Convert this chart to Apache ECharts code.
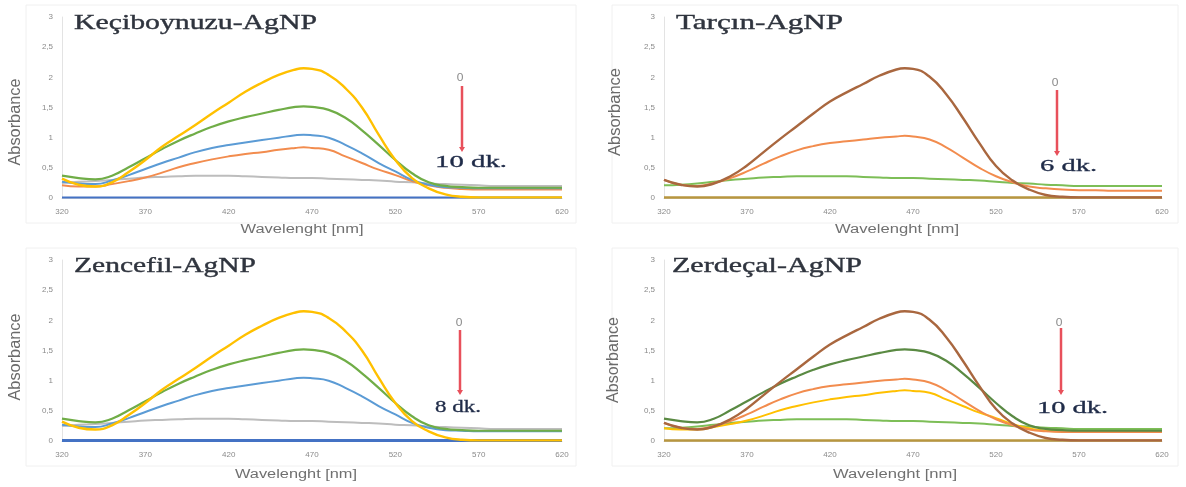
<!DOCTYPE html>
<html>
<head>
<meta charset="utf-8">
<script src="https://cdn.jsdelivr.net/npm/echarts@6/dist/echarts.min.js"></script>
<style>
html,body{margin:0;padding:0;background:#fff;}
#chart{width:1186px;height:487px;}
</style>
</head>
<body>
<div id="chart"></div>
<script>
// ---- data ----
const wavelengths = [320,330,340,350,360,370,380,390,400,410,420,430,440,450,460,465,470,480,490,500,510,520,530,540,550,560,570,580,590,600,610,620];
const yTicks = [0,0.5,1,1.5,2,2.5,3];
const xTicks = [320,370,420,470,520,570,620];

// Keçiboynuzu-AgNP
const kYellow = [0.32,0.22,0.19,0.26,0.43,0.63,0.85,1.03,1.21,1.40,1.58,1.76,1.91,2.04,2.13,2.15,2.14,2.04,1.82,1.50,1.05,0.63,0.33,0.16,0.06,0.02,0.01,0.01,0.01,0.01,0.01,0.01];
const kGreen  = [0.37,0.33,0.31,0.37,0.51,0.66,0.81,0.95,1.07,1.18,1.27,1.34,1.40,1.46,1.51,1.52,1.51,1.46,1.33,1.12,0.88,0.63,0.41,0.26,0.20,0.18,0.17,0.17,0.17,0.17,0.17,0.17];
const kBlue   = [0.27,0.24,0.23,0.29,0.38,0.48,0.58,0.67,0.76,0.83,0.88,0.92,0.96,1.00,1.04,1.05,1.04,1.00,0.88,0.74,0.58,0.44,0.30,0.22,0.18,0.17,0.16,0.16,0.16,0.16,0.16,0.16];
const kOrange = [0.21,0.19,0.19,0.23,0.28,0.34,0.42,0.51,0.58,0.64,0.69,0.73,0.76,0.80,0.83,0.84,0.83,0.80,0.69,0.58,0.47,0.38,0.28,0.21,0.17,0.15,0.14,0.14,0.14,0.14,0.14,0.14];
const kGray   = [0.25,0.27,0.28,0.30,0.32,0.34,0.35,0.36,0.37,0.37,0.37,0.36,0.35,0.34,0.33,0.33,0.33,0.32,0.31,0.30,0.29,0.27,0.26,0.24,0.23,0.22,0.21,0.20,0.20,0.20,0.20,0.20];
const kBase   = [0.01,0.01,0.01,0.01,0.01,0.01,0.01,0.01,0.01,0.01,0.01,0.01,0.01,0.01,0.01,0.01,0.01,0.01,0.01,0.01,0.01,0.01,0.01,0.01,0.01,0.01,0.01,0.01,0.01,0.01,0.01,0.01];

// Tarçın-AgNP
const tBrown  = [0.30,0.22,0.19,0.24,0.36,0.54,0.76,0.98,1.19,1.40,1.60,1.75,1.89,2.03,2.13,2.15,2.14,2.01,1.72,1.33,0.91,0.53,0.29,0.14,0.05,0.02,0.01,0.01,0.01,0.01,0.01,0.01];
const tOrange = [0.30,0.22,0.20,0.25,0.33,0.44,0.57,0.69,0.79,0.86,0.91,0.94,0.97,1.00,1.02,1.03,1.02,0.97,0.84,0.67,0.50,0.36,0.26,0.19,0.16,0.14,0.13,0.13,0.12,0.12,0.12,0.12];
const tGreen  = [0.21,0.22,0.24,0.27,0.30,0.32,0.34,0.35,0.36,0.36,0.36,0.36,0.35,0.34,0.33,0.33,0.33,0.32,0.31,0.30,0.29,0.27,0.25,0.24,0.22,0.21,0.20,0.20,0.20,0.20,0.20,0.20];
const tBase   = [0.01,0.01,0.01,0.01,0.01,0.01,0.01,0.01,0.01,0.01,0.01,0.01,0.01,0.01,0.01,0.01,0.01,0.01,0.01,0.01,0.01,0.01,0.01,0.01,0.01,0.01,0.01,0.01,0.01,0.01,0.01,0.01];

// Zencefil-AgNP
const zYellow = [0.32,0.22,0.19,0.26,0.43,0.63,0.85,1.03,1.21,1.40,1.58,1.76,1.91,2.04,2.13,2.15,2.14,2.04,1.82,1.50,1.05,0.63,0.33,0.16,0.06,0.02,0.01,0.01,0.01,0.01,0.01,0.01];
const zGreen  = [0.37,0.33,0.31,0.37,0.51,0.66,0.81,0.95,1.07,1.18,1.27,1.34,1.40,1.46,1.51,1.52,1.51,1.46,1.33,1.12,0.88,0.63,0.41,0.26,0.20,0.18,0.17,0.17,0.17,0.17,0.17,0.17];
const zBlue   = [0.27,0.24,0.23,0.29,0.38,0.48,0.58,0.67,0.76,0.83,0.88,0.92,0.96,1.00,1.04,1.05,1.04,1.00,0.88,0.74,0.58,0.44,0.30,0.22,0.18,0.17,0.16,0.16,0.16,0.16,0.16,0.16];
const zGray   = [0.25,0.27,0.28,0.30,0.32,0.34,0.35,0.36,0.37,0.37,0.37,0.36,0.35,0.34,0.33,0.33,0.33,0.32,0.31,0.30,0.29,0.27,0.26,0.24,0.23,0.22,0.21,0.20,0.20,0.20,0.20,0.20];
const zBase   = [0.01,0.01,0.01,0.01,0.01,0.01,0.01,0.01,0.01,0.01,0.01,0.01,0.01,0.01,0.01,0.01,0.01,0.01,0.01,0.01,0.01,0.01,0.01,0.01,0.01,0.01,0.01,0.01,0.01,0.01,0.01,0.01];

// Zerdeçal-AgNP
const rBrown  = [0.30,0.22,0.19,0.24,0.36,0.54,0.76,0.98,1.19,1.40,1.60,1.75,1.89,2.03,2.13,2.15,2.14,2.01,1.72,1.33,0.91,0.53,0.29,0.14,0.05,0.02,0.01,0.01,0.01,0.01,0.01,0.01];
const rDGreen = [0.37,0.33,0.31,0.37,0.51,0.66,0.81,0.95,1.07,1.18,1.27,1.34,1.40,1.46,1.51,1.52,1.51,1.46,1.33,1.12,0.88,0.63,0.41,0.26,0.20,0.18,0.17,0.17,0.17,0.17,0.17,0.17];
const rOrange = [0.30,0.22,0.20,0.25,0.33,0.44,0.57,0.69,0.79,0.86,0.91,0.94,0.97,1.00,1.02,1.03,1.02,0.97,0.84,0.67,0.50,0.36,0.26,0.19,0.16,0.15,0.15,0.15,0.15,0.15,0.15,0.15];
const rYellow = [0.21,0.19,0.19,0.23,0.28,0.34,0.42,0.51,0.58,0.64,0.69,0.73,0.76,0.80,0.83,0.84,0.83,0.80,0.69,0.58,0.47,0.38,0.28,0.21,0.17,0.16,0.15,0.15,0.15,0.15,0.15,0.15];
const rLGreen = [0.21,0.22,0.24,0.27,0.30,0.32,0.34,0.35,0.36,0.36,0.36,0.36,0.35,0.34,0.33,0.33,0.33,0.32,0.31,0.30,0.29,0.27,0.25,0.24,0.22,0.21,0.20,0.20,0.20,0.20,0.20,0.20];
const rBase   = [0.01,0.01,0.01,0.01,0.01,0.01,0.01,0.01,0.01,0.01,0.01,0.01,0.01,0.01,0.01,0.01,0.01,0.01,0.01,0.01,0.01,0.01,0.01,0.01,0.01,0.01,0.01,0.01,0.01,0.01,0.01,0.01];

const panelTitles = ['Keçiboynuzu-AgNP','Tarçın-AgNP','Zencefil-AgNP','Zerdeçal-AgNP'];
const startLabels = ['0','0','0','0'];
const endLabels = ['10 dk.','6 dk.','8 dk.','10 dk.'];
const xAxisName = 'Wavelenght [nm]';
const yAxisName = 'Absorbance';

// ---- styling / layout ----
const C = {
  yellow:'#FFC000', green:'#70AD47', blue:'#5B9BD5', orange:'#F28C4E', gray:'#BDBDBD',
  dblue:'#4472C4', brown:'#A9673F', olive:'#B8963F', dgreen:'#5A8A43', lgreen:'#7DBE57'
};
const panels = [
  {grid:{left:62,top:17,width:500,height:181}, series:[
    [kBase,C.dblue,2],[kGray,C.gray,2],[kOrange,C.orange,2],[kBlue,C.blue,2],[kGreen,C.green,2.2],[kYellow,C.yellow,2.4]]},
  {grid:{left:664,top:17,width:498,height:181}, series:[
    [tBase,C.olive,2.5],[tGreen,C.lgreen,2],[tOrange,C.orange,2],[tBrown,C.brown,2.4]]},
  {grid:{left:62,top:260,width:500,height:181}, series:[
    [zBase,C.dblue,3],[zGray,C.gray,2],[zBlue,C.blue,2],[zGreen,C.green,2.2],[zYellow,C.yellow,2.4]]},
  {grid:{left:664,top:260,width:498,height:181}, series:[
    [rBase,C.olive,2.5],[rLGreen,C.lgreen,2],[rYellow,C.yellow,2],[rOrange,C.orange,2],[rDGreen,C.dgreen,2.2],[rBrown,C.brown,2.4]]}
];

// annotation positions (pixels)
const ann = [
  {title:[74,34,243], name:[302,230,123], abs:[16,122,87], zero:[460,78], arrow:[462,86,152], end:[435,163,72]},
  {title:[676,34,167], name:[897,230,124], abs:[616,112,88], zero:[1055,83], arrow:[1057,90,156], end:[1040,167,57]},
  {title:[74,277,182], name:[296,475,122], abs:[16,357,87], zero:[459,323], arrow:[460,330,395], end:[435,408,46]},
  {title:[672,277,190], name:[895,475,124], abs:[614,360,86], zero:[1059,323], arrow:[1061,328,395], end:[1037,409,71]}
];

const ctx = document.createElement('canvas').getContext('2d');
function measure(text, font){ ctx.font = font; return ctx.measureText(text).width; }

const grids=[], xAxes=[], yAxes=[], series=[], graphics=[];
panels.forEach((p,i)=>{
  grids.push(p.grid);
  xAxes.push({type:'value', gridIndex:i, min:320, max:620, interval:50,
    axisLine:{show:true,lineStyle:{color:'#d9d9d9',width:1}}, axisTick:{show:false}, splitLine:{show:false},
    axisLabel:{fontSize:8, color:'#8a8a8a', margin:10, fontFamily:'Liberation Sans'}});
  yAxes.push({type:'value', gridIndex:i, min:0, max:3, interval:0.5,
    axisLine:{show:true,lineStyle:{color:'#e3e3e3',width:1}}, axisTick:{show:false}, splitLine:{show:false},
    axisLabel:{fontSize:8, color:'#8a8a8a', margin:9, fontFamily:'Liberation Sans',
      formatter:v=>String(v).replace('.',',')}});
  p.series.forEach(s=>{
    series.push({type:'line', xAxisIndex:i, yAxisIndex:i, smooth:0.5, symbol:'none',
      data: wavelengths.map((w,j)=>[w,s[0][j]]), lineStyle:{color:s[1], width:s[2]}, itemStyle:{color:s[1]}, silent:true});
  });
  const a = ann[i];
  // title
  const tFont = '22px "Liberation Serif"';
  const tw = measure(panelTitles[i], tFont);
  graphics.push({type:'text', x:a.title[0], y:a.title[1], scaleX:a.title[2]/tw, scaleY:1,
    style:{text:panelTitles[i], font:tFont, fill:'#2f343e', stroke:'#2f343e', lineWidth:0.4, textAlign:'left', textVerticalAlign:'bottom'}, z:10});
  // x axis name
  const nFont = '12px "Liberation Sans"';
  const nw = measure(xAxisName, nFont);
  graphics.push({type:'text', x:a.name[0], y:a.name[1], scaleX:a.name[2]/nw,
    style:{text:xAxisName, font:nFont, fill:'#707070', textAlign:'center', textVerticalAlign:'middle'}});
  // y axis name
  const yFont = '12px "Liberation Sans"';
  const yw = measure(yAxisName, yFont);
  graphics.push({type:'text', x:a.abs[0], y:a.abs[1], rotation:Math.PI/2, scaleX:a.abs[2]/yw, scaleY:1.3,
    style:{text:yAxisName, font:yFont, fill:'#6a6a6a', textAlign:'center', textVerticalAlign:'middle'}});
  // start label
  graphics.push({type:'text', x:a.zero[0], y:a.zero[1], scaleX:1.2,
    style:{text:startLabels[i], font:'10px "Liberation Sans"', fill:'#8a8a8a', textAlign:'center', textVerticalAlign:'middle'}});
  // arrow
  graphics.push({type:'line', shape:{x1:a.arrow[0], y1:a.arrow[1], x2:a.arrow[0], y2:a.arrow[2]-4},
    style:{stroke:'#E8505B', lineWidth:2.5}});
  graphics.push({type:'polygon', shape:{points:[[a.arrow[0]-3,a.arrow[2]-5],[a.arrow[0]+3,a.arrow[2]-5],[a.arrow[0],a.arrow[2]]]},
    style:{fill:'#E8505B'}});
  // end label
  const eFont = '17px "Liberation Serif"';
  const ew = measure(endLabels[i], eFont);
  graphics.push({type:'text', x:a.end[0], y:a.end[1], scaleX:a.end[2]/ew,
    style:{text:endLabels[i], font:eFont, fill:'#1f2b48', stroke:'#1f2b48', lineWidth:0.3, textAlign:'left', textVerticalAlign:'middle'}, z:10});
});
// faint chart-area frames
[[26,5,550,218],[612,5,566,218],[26,248,550,218],[612,248,566,218]].forEach(r=>{
  graphics.push({type:'rect', shape:{x:r[0],y:r[1],width:r[2],height:r[3]}, style:{fill:'none', stroke:'#f0f0f0', lineWidth:1}, z:-1});
});

const chart = echarts.init(document.getElementById('chart'), null, {renderer:'canvas'});
chart.setOption({
  animation:false,
  backgroundColor:'#ffffff',
  grid:grids, xAxis:xAxes, yAxis:yAxes, series:series, graphic:graphics
});
</script>
</body>
</html>
